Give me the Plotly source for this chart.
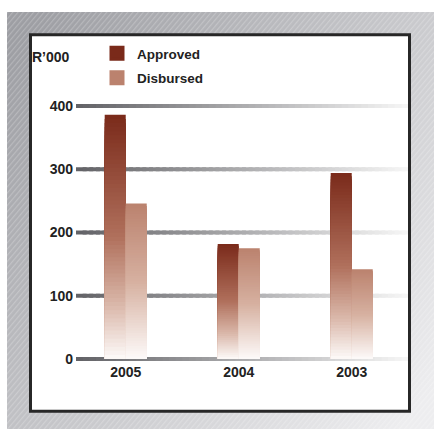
import base64
import plotly.graph_objects as go

# ---------------- data ----------------
years = ["2005", "2004", "2003"]
approved = [386, 182, 294]
disbursed = [246, 175, 142]
y_ticks = [0, 100, 200, 300, 400]
y_unit_label = "R\u2019000"

# ---------------- layout helpers ----------------
W, H = 434, 429
L, R, T, B = 76, 26, 100, 64
PW, PH = W - L - R, H - T - B


def px2x(px):
    return (px - L) / PW


def py2y(py):
    return (H - B - py) / PH


def lerp(c0, c1, t):
    return tuple(round(a + (b - a) * t) for a, b in zip(c0, c1))


def grad(stops, f):
    for (f0, c0), (f1, c1) in zip(stops, stops[1:]):
        if f <= f1:
            return lerp(c0, c1, (f - f0) / (f1 - f0) if f1 > f0 else 0)
    return stops[-1][1]


def rgb(c):
    return "rgb(%d,%d,%d)" % c


approved_stops = [(0, (122, 42, 26)), (0.5, (176, 112, 92)), (0.78, (218, 184, 170)), (1, (253, 250, 249))]
disbursed_stops = [(0, (187, 130, 110)), (0.5, (214, 176, 160)), (1, (253, 250, 249))]

fig = go.Figure()

N = 60
for name, vals, stops, grp in [("Approved", approved, approved_stops, "a"),
                               ("Disbursed", disbursed, disbursed_stops, "d")]:
    for k in range(N):
        frac = (N - k) / N
        fig.add_trace(go.Bar(
            x=years, y=[v * frac for v in vals], base=0,
            offsetgroup=grp, legendgroup=grp, showlegend=False, hoverinfo="skip",
            marker=dict(color=rgb(grad(stops, (k + 0.5) / N)), line=dict(width=0)),
        ))
    # legend entry
    fig.add_trace(go.Bar(
        x=years, y=[None] * len(years), name=name, offsetgroup=grp, legendgroup=grp,
        marker=dict(color=rgb(stops[0][1]), line=dict(width=3, color=rgb(stops[0][1]))),
    ))

# ---------------- background (gradient + hatch) ----------------
bw, bh = 427, 417
svg = (
    f'<svg xmlns="http://www.w3.org/2000/svg" width="{bw}" height="{bh}" viewBox="0 0 {bw} {bh}">'
    '<defs><linearGradient id="g" x1="0" y1="0.1" x2="1" y2="0.9">'
    '<stop offset="0" stop-color="#9d9ea3"/><stop offset="1" stop-color="#ededef"/></linearGradient>'
    '<pattern id="p" width="4" height="4" patternUnits="userSpaceOnUse" patternTransform="rotate(40)">'
    '<rect width="1.2" height="4" fill="#ffffff" fill-opacity="0.22"/></pattern></defs>'
    f'<rect width="{bw}" height="{bh}" fill="url(#g)"/>'
    f'<rect width="{bw}" height="{bh}" fill="url(#p)"/></svg>'
)
src = "data:image/svg+xml;base64," + base64.b64encode(svg.encode()).decode()
fig.add_layout_image(dict(source=src, xref="paper", yref="paper",
                          x=px2x(7), y=py2y(12), sizex=bw / PW, sizey=bh / PH,
                          xanchor="left", yanchor="top", sizing="stretch", layer="below"))

shapes = []
# white panel with dark border
shapes.append(dict(type="rect", xref="paper", yref="paper",
                   x0=px2x(30.5), x1=px2x(409.5), y0=py2y(411.3), y1=py2y(34.7),
                   fillcolor="white", line=dict(color="#272727", width=3), layer="below"))
# gradient grid lines
G = 50
c_left, c_right = (98, 98, 102), (246, 246, 246)
for v in y_ticks:
    for i in range(G):
        shapes.append(dict(type="line", xref="paper", yref="y",
                           x0=i / G, x1=min(1, (i + 1.6) / G), y0=v, y1=v,
                           line=dict(color=rgb(lerp(c_left, c_right, (i + 0.5) / G)), width=4),
                           layer="below"))

font_family = "Liberation Sans, Arial, sans-serif"
txt = "#222222"
fig.update_layout(
    width=W, height=H,
    margin=dict(l=L, r=R, t=T, b=B, pad=0),
    paper_bgcolor="white", plot_bgcolor="rgba(0,0,0,0)",
    barmode="group", bargap=0.628, bargroupgap=0,
    shapes=shapes,
    font=dict(family=font_family, size=14, color=txt, weight="bold"),
    showlegend=True,
    legend=dict(x=px2x(97), y=py2y(38), xanchor="left", yanchor="top",
                bgcolor="rgba(0,0,0,0)", borderwidth=0, tracegroupgap=4,
                font=dict(family=font_family, size=13.5, color=txt, weight="bold"),
                traceorder="grouped"),
    annotations=[dict(text=y_unit_label, xref="paper", yref="paper",
                      x=px2x(72), y=py2y(57.5), xanchor="right", yanchor="middle",
                      showarrow=False,
                      font=dict(family=font_family, size=14, color=txt, weight="bold"))],
)
fig.update_xaxes(type="category", categoryorder="array", categoryarray=years,
                 range=[-0.44, 2.498], showgrid=False, zeroline=False, showline=False,
                 ticks="", ticklabelstandoff=-3,
                 tickfont=dict(family=font_family, size=14, color=txt, weight="bold"))
fig.update_yaxes(range=[-9.49, 409.49], tickvals=y_ticks, showgrid=False, zeroline=False,
                 showline=False, ticks="", ticklabelstandoff=2,
                 tickfont=dict(family=font_family, size=14, color=txt, weight="bold"))

fig.write_html("out.html")
